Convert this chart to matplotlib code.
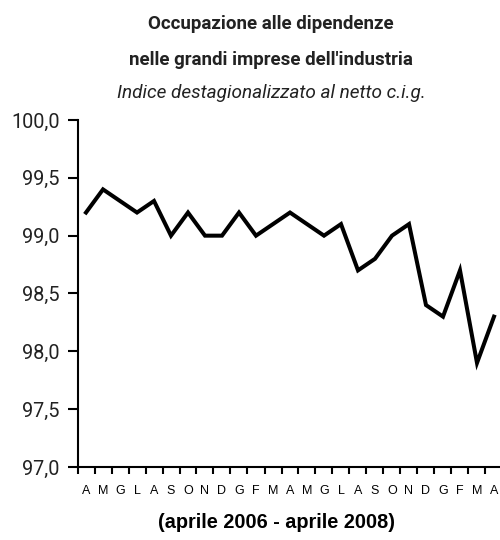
import matplotlib
matplotlib.use("Agg")
import matplotlib.pyplot as plt

months = ["A", "M", "G", "L", "A", "S", "O", "N", "D", "G", "F", "M",
          "A", "M", "G", "L", "A", "S", "O", "N", "D", "G", "F", "M", "A"]
values = [99.2, 99.4, 99.3, 99.2, 99.3, 99.0, 99.2, 99.0, 99.0, 99.2, 99.0, 99.1,
          99.2, 99.1, 99.0, 99.1, 98.7, 98.8, 99.0, 99.1, 98.4, 98.3, 98.7, 97.9, 98.3]
yticks = [97.0, 97.5, 98.0, 98.5, 99.0, 99.5, 100.0]
ytick_labels = ["97,0", "97,5", "98,0", "98,5", "99,0", "99,5", "100,0"]

narrow = ["Roboto", "Liberation Sans", "DejaVu Sans"]
regular = ["Liberation Sans", "DejaVu Sans"]

fig = plt.figure(figsize=(5.0, 5.4), dpi=100)
W, H = 500, 540
left, right, top, bottom = 77.5, 502.5, 120, 467
ax = fig.add_axes([left / W, 1 - bottom / H, (right - left) / W, (bottom - top) / H])

x = list(range(len(values)))
ax.plot(x, values, color="black", lw=2.9, solid_joinstyle="miter")
ax.set_xlim(-0.5, len(values) - 0.5)
ax.set_ylim(97.0, 100.0)

ax.spines["top"].set_visible(False)
ax.spines["right"].set_visible(False)
for s in ("left", "bottom"):
    ax.spines[s].set_linewidth(1.5)

ax.set_yticks(yticks)
ax.set_yticklabels(ytick_labels, family=narrow, fontsize=14.3, color="#222222")
ax.tick_params(axis="y", direction="out", length=7, width=1.5, pad=6)

ax.set_xticks([i - 0.5 for i in range(len(values) + 1)])
ax.set_xticklabels([])
ax.set_xticks(x, minor=True)
ax.set_xticklabels(months, minor=True, family=regular, fontsize=9)
ax.tick_params(axis="x", which="major", direction="out", length=5, width=1.5)
ax.tick_params(axis="x", which="minor", length=0, pad=13)

fig.text(271 / W, 1 - 24 / H, "Occupazione alle dipendenze", ha="center", va="center",
         family=narrow, fontsize=13.5, fontweight="bold", color="#222222")
fig.text(271 / W, 1 - 60 / H, "nelle grandi imprese dell'industria", ha="center", va="center",
         family=narrow, fontsize=13.5, fontweight="bold", color="#222222")
fig.text(271 / W, 1 - 93 / H, "Indice destagionalizzato al netto c.i.g.", ha="center", va="center",
         family=narrow, fontsize=13.7, fontstyle="italic", color="#222222")
fig.text(277 / W, 1 - 522 / H, "(aprile 2006 - aprile 2008)", ha="center", va="center",
         family=regular, fontsize=14.3, fontweight="bold")

fig.savefig("out.png", dpi=100)
